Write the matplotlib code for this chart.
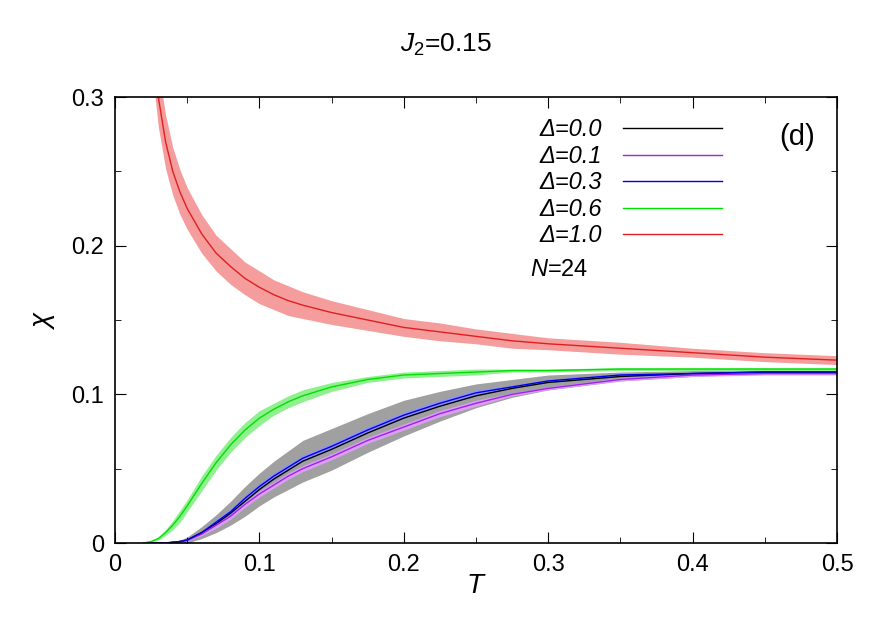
import matplotlib
matplotlib.use("Agg")
import matplotlib.pyplot as plt
import numpy as np
from matplotlib.ticker import MultipleLocator

plt.rcParams["font.family"] = "Liberation Sans"
plt.rcParams["mathtext.fontset"] = "custom"
plt.rcParams["mathtext.it"] = "Liberation Sans:italic"
plt.rcParams["mathtext.rm"] = "Liberation Sans"

# temperature grid and chi curves
T = [0.02, 0.025, 0.03, 0.035, 0.04, 0.045, 0.05, 0.06, 0.07, 0.08, 0.09, 0.10, 0.11, 0.12, 0.13,
     0.15, 0.175, 0.20, 0.225, 0.25, 0.275, 0.30, 0.35, 0.40, 0.45, 0.50]
chi_d00 = [0.0, 0.0, 0.0, 0.0, 0.0005, 0.001, 0.002, 0.007, 0.013, 0.020, 0.028, 0.036, 0.043, 0.049, 0.055,
           0.063, 0.074, 0.084, 0.092, 0.099, 0.104, 0.108, 0.112, 0.114, 0.115, 0.115]
err_d00 = [0.0, 0.0, 0.0, 0.0, 0.0005, 0.001, 0.002, 0.004, 0.006, 0.008, 0.010, 0.011, 0.012, 0.013, 0.014,
           0.014, 0.013, 0.012, 0.010, 0.008, 0.006, 0.005, 0.003, 0.002, 0.001, 0.001]
chi_d01 = [0.0, 0.0, 0.0, 0.0, 0.0005, 0.001, 0.002, 0.006, 0.012, 0.018, 0.026, 0.033, 0.039, 0.045, 0.050,
           0.058, 0.069, 0.078, 0.087, 0.094, 0.100, 0.104, 0.110, 0.113, 0.114, 0.114]
err_d01 = [0.0, 0.0, 0.0, 0.0, 0.0, 0.0005, 0.001, 0.001, 0.002, 0.002, 0.002, 0.002, 0.002, 0.002, 0.002,
           0.002, 0.002, 0.002, 0.002, 0.002, 0.001, 0.001, 0.001, 0.001, 0.001, 0.001]
chi_d03 = [0.0, 0.0, 0.0, 0.0, 0.0005, 0.001, 0.002, 0.007, 0.014, 0.021, 0.030, 0.038, 0.045, 0.051, 0.057,
           0.065, 0.076, 0.086, 0.094, 0.101, 0.105, 0.109, 0.113, 0.114, 0.115, 0.115]
err_d03 = [0.0, 0.0, 0.0, 0.0, 0.0, 0.0005, 0.001, 0.001, 0.002, 0.002, 0.002, 0.002, 0.002, 0.002, 0.002,
           0.002, 0.002, 0.002, 0.002, 0.002, 0.001, 0.001, 0.001, 0.001, 0.001, 0.001]
chi_d06 = [0.0, 0.001, 0.003, 0.007, 0.012, 0.018, 0.025, 0.040, 0.054, 0.066, 0.076, 0.084, 0.090, 0.095, 0.099,
           0.105, 0.110, 0.113, 0.114, 0.115, 0.116, 0.116, 0.117, 0.117, 0.117, 0.117]
err_d06 = [0.0, 0.0005, 0.001, 0.002, 0.003, 0.004, 0.004, 0.005, 0.005, 0.005, 0.005, 0.005, 0.004, 0.004, 0.004,
           0.003, 0.002, 0.002, 0.002, 0.002, 0.001, 0.001, 0.001, 0.001, 0.001, 0.001]
chi_d10 = [0.42, 0.35, 0.30, 0.27, 0.25, 0.236, 0.225, 0.208, 0.195, 0.186, 0.178, 0.172, 0.167, 0.163, 0.160,
           0.155, 0.150, 0.145, 0.142, 0.139, 0.136, 0.134, 0.131, 0.128, 0.125, 0.123]
err_d10 = [0.03, 0.025, 0.02, 0.018, 0.016, 0.015, 0.014, 0.013, 0.012, 0.012, 0.011, 0.011, 0.010, 0.010, 0.009,
           0.008, 0.007, 0.006, 0.006, 0.005, 0.005, 0.004, 0.004, 0.003, 0.003, 0.003]

series = [
    ("\u0394=0.0", chi_d00, err_d00, "black", "#a0a0a0"),
    ("\u0394=0.1", chi_d01, err_d01, "#a020f0", "#d9a0f5"),
    ("\u0394=0.3", chi_d03, err_d03, "#0000e0", "#9090ff"),
    ("\u0394=0.6", chi_d06, err_d06, "#00e000", "#90f090"),
    ("\u0394=1.0", chi_d10, err_d10, "#e02020", "#f59c9c"),
]

fig = plt.figure(figsize=(8.91, 6.24), dpi=100)
ax = fig.add_axes([115 / 891, 1 - 543 / 624, 722 / 891, 446 / 624])

t = np.array(T)
for label, y, e, c, fc in series:
    y = np.array(y)
    e = np.array(e)
    ax.fill_between(t, y - e, y + e, color=fc, lw=0)
for label, y, e, c, fc in series:
    ax.plot(t, y, color=c, lw=1.0, label=label)

ax.set_xlim(0, 0.5)
ax.set_ylim(0, 0.3)
ax.set_xticks([0, 0.1, 0.2, 0.3, 0.4, 0.5], ["0", "0.1", "0.2", "0.3", "0.4", "0.5"])
ax.set_yticks([0, 0.1, 0.2, 0.3], ["0", "0.1", "0.2", "0.3"])
ax.xaxis.set_minor_locator(MultipleLocator(0.05))
ax.yaxis.set_minor_locator(MultipleLocator(0.05))
ax.tick_params(which="both", direction="in", top=True, right=True, labelsize=17, pad=8)
ax.tick_params(which="major", length=8)
ax.tick_params(which="minor", length=4)
for s in ax.spines.values():
    s.set_linewidth(1.2)

ax.set_xlabel(r"$T$", fontsize=20, labelpad=-2)
ax.set_ylabel(r"$\chi$", fontsize=20, labelpad=10)
fig.text(0.5, 1 - 45 / 624, r"$J_2$=0.15", ha="center", va="center", fontsize=19)

leg = ax.legend(loc="upper right", bbox_to_anchor=(0.87, 1.0), frameon=False,
                fontsize=17, markerfirst=False, handlelength=4.2,
                labelspacing=0.15, handletextpad=0.9)
for txt in leg.get_texts():
    txt.set_ha("right")
    txt.set_fontstyle("italic")
ax.text(0.575, 1 - (270 - 97) / 446, r"$N$=24", transform=ax.transAxes,
        fontsize=17, va="center", ha="left")
ax.text(0.97, 0.91, "(d)", transform=ax.transAxes, fontsize=21,
        ha="right", va="center")

fig.savefig("out.png", dpi=100)
